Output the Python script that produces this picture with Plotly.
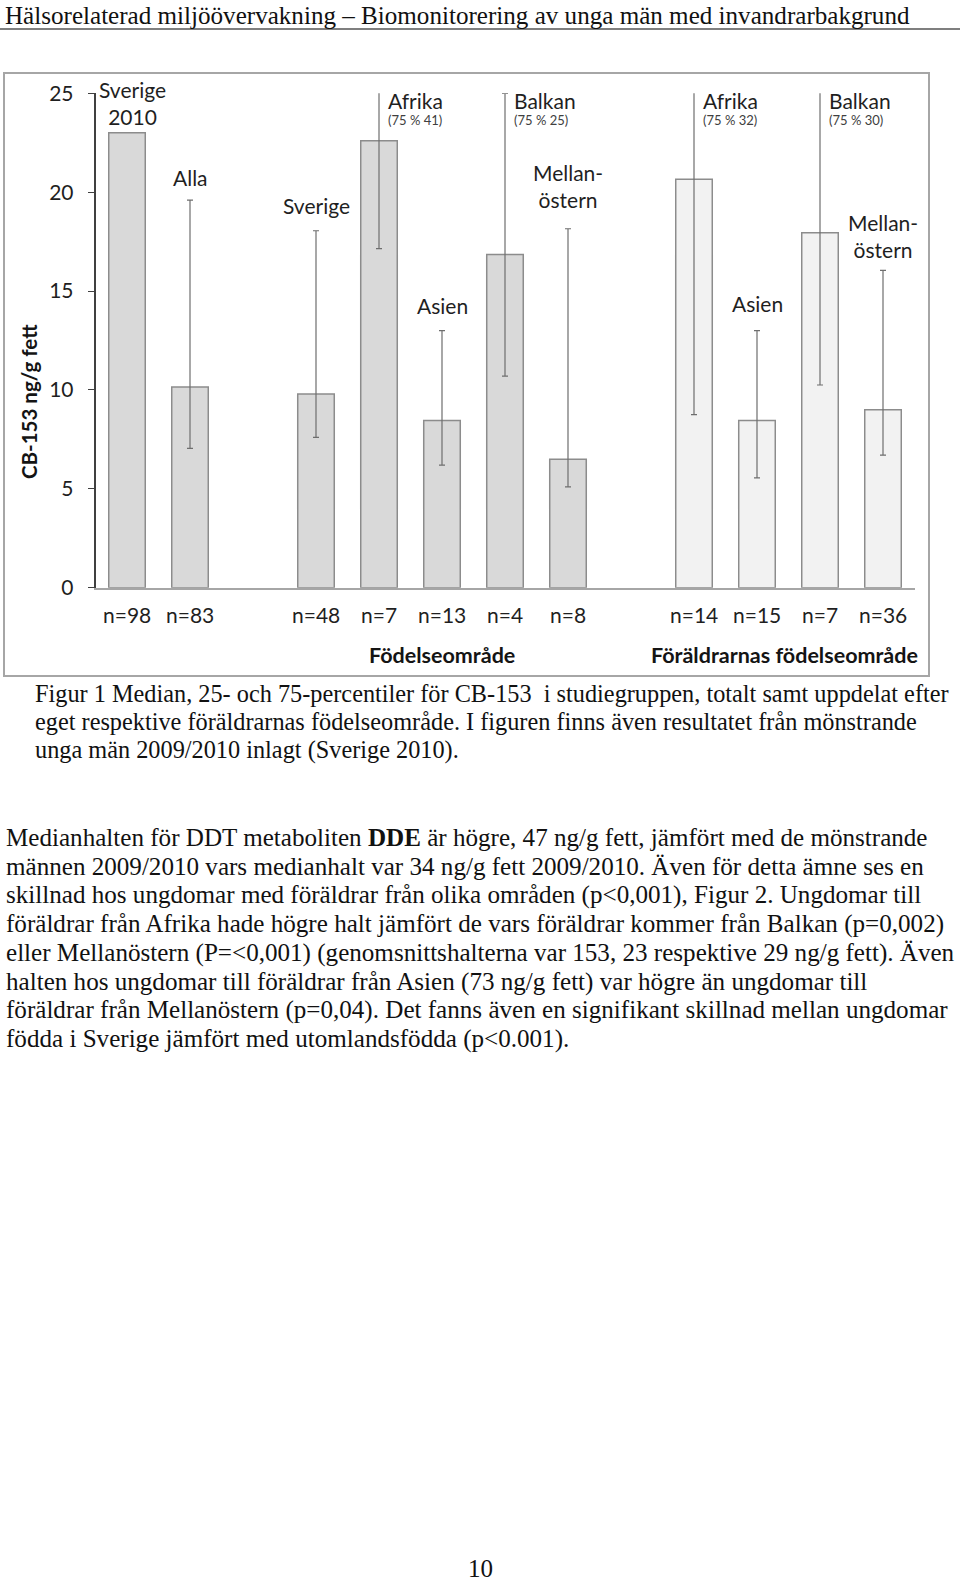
import plotly.graph_objects as go

# ---------------- data ----------------
categories = ["Sverige 2010", "Alla", "Sverige", "Afrika", "Asien", "Balkan", "Mellanöstern",
              "Afrika", "Asien", "Balkan", "Mellanöstern"]
bar_labels = ["Sverige<br>2010", "Alla", "Sverige", "Afrika", "Asien", "Balkan", "Mellan-<br>östern",
              "Afrika", "Asien", "Balkan", "Mellan-<br>östern"]
groups = ["ref", "all", "own", "own", "own", "own", "own", "par", "par", "par", "par"]
slots = [0, 1, 3, 4, 5, 6, 7, 9, 10, 11, 12]
n_labels = ["n=98", "n=83", "n=48", "n=7", "n=13", "n=4", "n=8", "n=14", "n=15", "n=7", "n=36"]
median = [23.0, 10.15, 9.8, 22.6, 8.45, 16.85, 6.5, 20.65, 8.45, 17.95, 9.0]
p25 = [None, 7.05, 7.6, 17.15, 6.2, 10.7, 5.1, 8.75, 5.55, 10.25, 6.7]
p75 = [None, 19.6, 18.05, 41, 13.0, 25, 18.15, 32, 13.0, 30, 16.05]
y_ticks = [0, 5, 10, 15, 20, 25]
y_max = 25
group_titles = ["Födelseområde", "Föräldrarnas födelseområde"]

header = "Hälsorelaterad miljöövervakning – Biomonitorering av unga män med invandrarbakgrund"
caption = ["Figur 1 Median, 25- och 75-percentiler för CB-153  i studiegruppen, totalt samt uppdelat efter",
           "eget respektive föräldrarnas födelseområde. I figuren finns även resultatet från mönstrande",
           "unga män 2009/2010 inlagt (Sverige 2010)."]
body = ["Medianhalten för DDT metaboliten <b>DDE</b> är högre, 47 ng/g fett, jämfört med de mönstrande",
        "männen 2009/2010 vars medianhalt var 34 ng/g fett 2009/2010. Även för detta ämne ses en",
        "skillnad hos ungdomar med föräldrar från olika områden (p<0,001), Figur 2. Ungdomar till",
        "föräldrar från Afrika hade högre halt jämfört de vars föräldrar kommer från Balkan (p=0,002)",
        "eller Mellanöstern (P=<0,001) (genomsnittshalterna var 153, 23 respektive 29 ng/g fett). Även",
        "halten hos ungdomar till föräldrar från Asien (73 ng/g fett) var högre än ungdomar till",
        "föräldrar från Mellanöstern (p=0,04). Det fanns även en signifikant skillnad mellan ungdomar",
        "födda i Sverige jämfört med utomlandsfödda (p<0.001)."]
page_no = "10"

# ---------------- layout helpers (page pixel -> paper) ----------------
W, H = 960, 1585
def py(p):
    return 1 - p / H
def pxx(p):
    return p / W

SANS = "Lato"
SERIF = "Liberation Serif"
TXT = "#1f1f1f"
fill = {"ref": "#d9d9d9", "all": "#d9d9d9", "own": "#d9d9d9", "par": "#f2f2f2"}
label_dy = [2, 8, 11, 4, 11, 4, 15, 4, 13, 4, 6]   # vertical nudges of the bar labels (px)

fig = go.Figure()

ref_idx = [i for i, g in enumerate(groups) if g == "ref"]
oth_idx = [i for i, g in enumerate(groups) if g != "ref"]
fig.add_trace(go.Bar(
    x=[slots[i] for i in ref_idx], y=[median[i] for i in ref_idx], width=0.58,
    marker=dict(color=[fill[groups[i]] for i in ref_idx], line=dict(color="#8c8c8c", width=1.5)),
    hoverinfo="skip", showlegend=False))
fig.add_trace(go.Bar(
    x=[slots[i] for i in oth_idx], y=[median[i] for i in oth_idx], width=0.58,
    marker=dict(color=[fill[groups[i]] for i in oth_idx], line=dict(color="#8c8c8c", width=1.5)),
    error_y=dict(type="data", symmetric=False,
                 array=[p75[i] - median[i] for i in oth_idx],
                 arrayminus=[median[i] - p25[i] for i in oth_idx],
                 color="#6e6e6e", thickness=1.2, width=3),
    hoverinfo="skip", showlegend=False))

ann = []
for i in range(len(categories)):
    if p75[i] is not None and p75[i] >= y_max:
        ann.append(dict(x=slots[i], y=y_max, xref="x", yref="y", text=bar_labels[i],
                        xanchor="left", yanchor="top", xshift=7, yshift=7, showarrow=False,
                        font=dict(family=SANS, size=21, color=TXT)))
        ann.append(dict(x=slots[i], y=y_max, xref="x", yref="y", text=f"(75 % {p75[i]})",
                        xanchor="left", yanchor="top", xshift=7, yshift=-17, showarrow=False,
                        font=dict(family=SANS, size=13, color="#404040")))
    else:
        top = p75[i] if p75[i] is not None else median[i]
        ann.append(dict(x=slots[i], y=top, xref="x", yref="y", text=bar_labels[i],
                        xanchor="center", yanchor="bottom", yshift=label_dy[i],
                        xshift=5 if groups[i] == "ref" else 0, showarrow=False,
                        font=dict(family=SANS, size=21, color=TXT)))
    ann.append(dict(x=slots[i], y=py(614), xref="x", yref="paper", text=n_labels[i],
                    xanchor="center", yanchor="middle", showarrow=False,
                    font=dict(family=SANS, size=21, color=TXT)))

own_slots = [slots[i] for i, g in enumerate(groups) if g == "own"]
par_slots = [slots[i] for i, g in enumerate(groups) if g == "par"]
ann.append(dict(x=(min(own_slots) + max(own_slots)) / 2, y=py(655), xref="x", yref="paper",
                text=f"<b>{group_titles[0]}</b>", showarrow=False, xanchor="center", yanchor="middle",
                font=dict(family=SANS, size=21.5, color="#141414")))
ann.append(dict(x=(min(par_slots) + max(par_slots)) / 2, y=py(655), xref="x", yref="paper",
                text=f"<b>{group_titles[1]}</b>", showarrow=False, xanchor="center", yanchor="middle",
                xshift=-4, font=dict(family=SANS, size=21.5, color="#141414")))

ann.append(dict(x=pxx(29), y=py(402), xref="paper", yref="paper", text="<b>CB-153 ng/g fett</b>",
                textangle=-90, showarrow=False, xanchor="center", yanchor="middle",
                font=dict(family=SANS, size=20.5, color="#141414")))

ann.append(dict(x=pxx(4), y=py(16), xref="paper", yref="paper", text=header, showarrow=False,
                xanchor="left", yanchor="middle", borderpad=0,
                font=dict(family=SERIF, size=25.1, color="#111")))
for k, line in enumerate(caption):
    ann.append(dict(x=pxx(33), y=py(693 + 28.5 * k), xref="paper", yref="paper", text=line,
                    showarrow=False, xanchor="left", yanchor="middle",
                    font=dict(family=SERIF, size=24.3, color="#111")))
for k, line in enumerate(body):
    ann.append(dict(x=pxx(4), y=py(838 + 28.7 * k), xref="paper", yref="paper", text=line,
                    showarrow=False, xanchor="left", yanchor="middle",
                    font=dict(family=SERIF, size=25.1, color="#111")))
ann.append(dict(x=pxx(480), y=py(1568), xref="paper", yref="paper", text=page_no, showarrow=False,
                xanchor="center", yanchor="middle", borderpad=0,
                font=dict(family=SERIF, size=25, color="#111")))

shapes = [
    dict(type="line", xref="paper", yref="paper", x0=0, x1=1, y0=py(29), y1=py(29),
         line=dict(color="#555555", width=1.5)),
    dict(type="rect", xref="paper", yref="paper", x0=pxx(4), x1=pxx(929), y0=py(73), y1=py(676),
         line=dict(color="#a6a6a6", width=2), layer="below"),
]

fig.update_layout(
    width=W, height=H, margin=dict(l=0, r=0, t=0, b=0, autoexpand=False),
    paper_bgcolor="white", plot_bgcolor="white", barmode="overlay",
    annotations=ann, shapes=shapes,
    xaxis=dict(domain=[pxx(95.5), pxx(914.5)], range=[-0.5, 12.5], showline=True,
               linecolor="#a6a6a6", linewidth=1.5, showticklabels=False, ticks="",
               showgrid=False, zeroline=False, fixedrange=True, automargin=False),
    yaxis=dict(domain=[py(587.7), py(93.3)], range=[0, y_max], tickvals=y_ticks, showline=True,
               linecolor="#404040", linewidth=1.5, ticks="outside", ticklen=6, tickcolor="#404040",
               tickfont=dict(family=SANS, size=21, color=TXT), ticklabelstandoff=10,
               showgrid=False, zeroline=False, fixedrange=True, automargin=False),
)

# let the figure start at the page's top-left corner (remove the default body margin)
fig.write_html("out.html", config={"displayModeBar": False},
               post_script="document.body.style.margin='0';")
